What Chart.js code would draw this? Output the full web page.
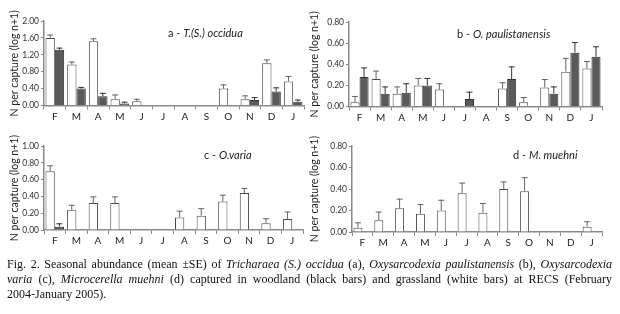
<!DOCTYPE html>
<html>
<head>
<meta charset="utf-8">
<script src="https://cdn.jsdelivr.net/npm/chart.js@4.4.1/dist/chart.umd.min.js"></script>
<style>
  html, body { margin: 0; padding: 0; background: #fff; }
  #wrap { position: relative; width: 620px; height: 314px; overflow: hidden; }
  .painel { position: absolute; }
  .titulo { position: absolute; font-family: Lato, sans-serif; font-size: 11px; color: #222; white-space: nowrap; line-height: 13px; }
  .legenda { position: absolute; left: 7px; top: 257px; width: 605px; font-family: "Liberation Serif", serif; font-size: 12px; line-height: 15px; color: #111; }
  .legenda div { white-space: nowrap; }
  .legenda .just { text-align: justify; text-align-last: justify; }
</style>
</head>
<body>
<div id="wrap">
  <div class="painel" style="left:0;top:0;width:310px;height:128px"><canvas id="graficoA"></canvas></div>
  <div class="painel" style="left:300px;top:0;width:320px;height:128px"><canvas id="graficoB"></canvas></div>
  <div class="painel" style="left:0;top:128px;width:310px;height:130px"><canvas id="graficoC"></canvas></div>
  <div class="painel" style="left:300px;top:128px;width:320px;height:130px"><canvas id="graficoD"></canvas></div>

  <div class="titulo" style="left:168px;top:26px">a - <i>T.(S.) occidua</i></div>
  <div class="titulo" style="left:457px;top:27px">b - <i>O. paulistanensis</i></div>
  <div class="titulo" style="left:204px;top:148px">c - <i>O.varia</i></div>
  <div class="titulo" style="left:513px;top:148px">d - <i>M. muehni</i></div>

  <div class="legenda">
    <div class="just">Fig. 2. Seasonal abundance (mean ±SE) of <i>Tricharaea (S.) occidua</i> (a), <i>Oxysarcodexia paulistanensis</i> (b), <i>Oxysarcodexia</i></div>
    <div class="just"><i>varia</i> (c), <i>Microcerella muehni</i> (d) captured in woodland (black bars) and grassland (white bars) at RECS (February</div>
    <div>2004-January 2005).</div>
  </div>
</div>

<script>
// meses (fev/2004 - jan/2005)
const meses = ['F', 'M', 'A', 'M', 'J', 'J', 'A', 'S', 'O', 'N', 'D', 'J'];

// a - T.(S.) occidua
const aCampo = [1.60, 0.97, 1.52, 0.15, 0.10, 0, 0, 0, 0.40, 0.15, 1.00, 0.57];
const aCampoEP = [0.08, 0.07, 0.07, 0.11, 0.06, 0, 0, 0, 0.10, 0.09, 0.09, 0.13];
const aMata = [1.32, 0.40, 0.22, 0.05, 0, 0, 0, 0, 0, 0.13, 0.33, 0.09];
const aMataEP = [0.05, 0.04, 0.08, 0.04, 0, 0, 0, 0, 0, 0.07, 0.10, 0.05];

// b - O. paulistanensis
const bCampo = [0.04, 0.26, 0.12, 0.20, 0.16, 0, 0, 0.17, 0.04, 0.18, 0.33, 0.36];
const bCampoEP = [0.06, 0.08, 0.07, 0.07, 0.06, 0, 0, 0.06, 0.05, 0.08, 0.13, 0.07];
const bMata = [0.28, 0.12, 0.13, 0.20, 0, 0.07, 0, 0.26, 0, 0.12, 0.51, 0.47];
const bMataEP = [0.09, 0.07, 0.09, 0.07, 0, 0.07, 0, 0.12, 0, 0.07, 0.10, 0.10];

// c - O. varia
const cCampo = [0.70, 0.24, 0.32, 0.32, 0, 0, 0.15, 0.17, 0.34, 0.44, 0.08, 0.13];
const cCampoEP = [0.07, 0.06, 0.08, 0.08, 0, 0, 0.08, 0.09, 0.08, 0.06, 0.06, 0.09];
const cMata = [0.04, 0, 0, 0, 0, 0, 0, 0, 0, 0, 0, 0];
const cMataEP = [0.04, 0, 0, 0, 0, 0, 0, 0, 0, 0, 0, 0];

// d - M. muehni
const dCampo = [0.04, 0.11, 0.22, 0.17, 0.20, 0.36, 0.18, 0.40, 0.38, 0, 0, 0.05];
const dCampoEP = [0.05, 0.08, 0.09, 0.09, 0.10, 0.10, 0.09, 0.07, 0.13, 0, 0, 0.05];
const dMata = [0, 0, 0, 0, 0, 0, 0, 0, 0, 0, 0, 0];
const dMataEP = [0, 0, 0, 0, 0, 0, 0, 0, 0, 0, 0, 0];

Chart.defaults.font.family = "Lato, sans-serif";
Chart.defaults.color = '#333';

// desenha as barras de erro (só para cima) a partir do array "ep" de cada dataset
const barrasErro = {
    id: 'barrasErro',
    afterDatasetsDraw(chart) {
        const ctx = chart.ctx;
        const y = chart.scales.y;
        chart.data.datasets.forEach((ds, i) => {
            const meta = chart.getDatasetMeta(i);
            meta.data.forEach((bar, j) => {
                const v = ds.data[j];
                const ep = ds.ep[j];
                if (!v || !ep) return;
                const y0 = y.getPixelForValue(v);
                const y1 = y.getPixelForValue(v + ep);
                ctx.save();
                ctx.strokeStyle = ds.corErro;
                ctx.lineWidth = 1;
                ctx.beginPath();
                ctx.moveTo(bar.x, y0);
                ctx.lineTo(bar.x, y1);
                ctx.moveTo(bar.x - 3, y1 + 0.5);
                ctx.lineTo(bar.x + 3, y1 + 0.5);
                ctx.stroke();
                ctx.restore();
            });
        });
    }
};

function criarGrafico(id, campo, campoEP, mata, mataEP, maxY, passo, area) {
    // area: l, r, t, b relativos ao canvas; w, h tamanho do canvas
    new Chart(document.getElementById(id), {
        type: 'bar',
        data: {
            labels: meses,
            datasets: [
                {
                    label: 'grassland',
                    data: campo,
                    ep: campoEP,
                    backgroundColor: '#ffffff',
                    borderColor: '#4a4a4a',
                    borderWidth: 1,
                    corErro: '#666',
                    categoryPercentage: 0.86,
                    barPercentage: 1.0
                },
                {
                    label: 'woodland',
                    data: mata,
                    ep: mataEP,
                    backgroundColor: '#5a5a5a',
                    borderColor: '#333',
                    borderWidth: 1,
                    corErro: '#333',
                    categoryPercentage: 0.86,
                    barPercentage: 1.0
                }
            ]
        },
        options: {
            responsive: true,
            maintainAspectRatio: false,
            animation: false,
            layout: { padding: { left: 0, top: area.t, right: area.w - area.r, bottom: 0 } },
            plugins: { legend: { display: false }, tooltip: { enabled: false } },
            scales: {
                x: {
                    grid: { display: true, drawOnChartArea: false, offset: true, tickLength: 4, color: '#8a8a8a', lineWidth: 1 },
                    border: { color: '#8a8a8a', width: 1.5 },
                    ticks: { padding: 1, font: { size: 10 }, color: '#222', maxRotation: 0, autoSkip: false },
                    afterFit: (s) => { s.height = area.h - area.b; }
                },
                y: {
                    min: 0,
                    max: maxY,
                    grid: { display: true, drawOnChartArea: false, tickLength: 3, color: '#8a8a8a' },
                    border: { color: '#8a8a8a', width: 1.5 },
                    ticks: {
                        stepSize: passo,
                        padding: 2,
                        font: { size: 8.5 },
                        color: '#333',
                        callback: (v) => v.toFixed(2)
                    },
                    title: {
                        display: true,
                        text: 'N per capture (log n+1)',
                        font: { size: 10.5 },
                        color: '#222',
                        padding: { top: 8, bottom: 0 }
                    },
                    afterFit: (s) => { s.width = area.l; }
                }
            }
        },
        plugins: [barrasErro]
    });
}

criarGrafico('graficoA', aCampo, aCampoEP, aMata, aMataEP, 2.0, 0.4, { l: 44, r: 304, t: 21, b: 105.5, w: 310, h: 128 });
criarGrafico('graficoB', bCampo, bCampoEP, bMata, bMataEP, 0.8, 0.2, { l: 49, r: 302, t: 22, b: 106.5, w: 320, h: 128 });
criarGrafico('graficoC', cCampo, cCampoEP, cMata, cMataEP, 1.0, 0.2, { l: 44, r: 303, t: 18, b: 102, w: 310, h: 130 });
criarGrafico('graficoD', dCampo, dCampoEP, dMata, dMataEP, 0.8, 0.2, { l: 52, r: 302, t: 18, b: 104, w: 320, h: 130 });
</script>
</body>
</html>
